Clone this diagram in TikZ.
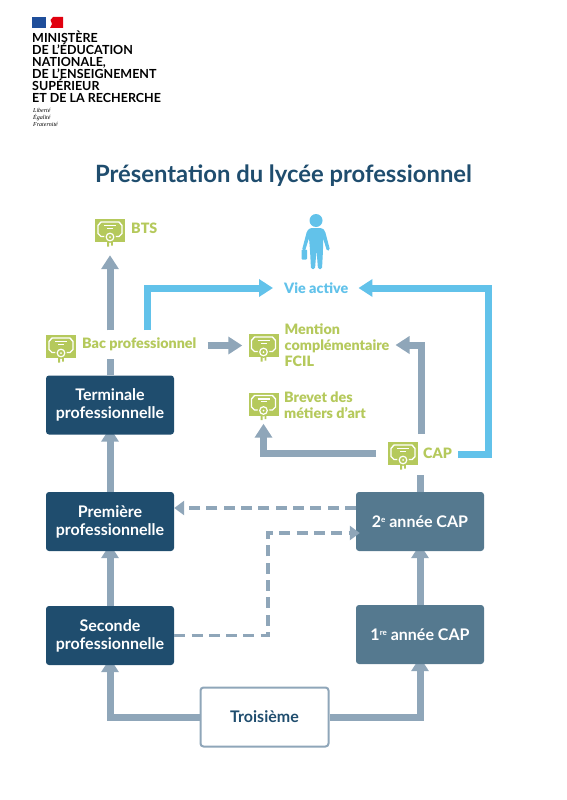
\documentclass[tikz,border=0pt]{standalone}
\usepackage{fontspec}
\setmainfont{Lato}
\newfontfamily\heavyfont{Lato Black}
\usepackage{xcolor}
\usetikzlibrary{arrows.meta, backgrounds}

\definecolor{navybox}{HTML}{1F4D6E}
\definecolor{slatebox}{HTML}{55798F}
\definecolor{linkgrey}{HTML}{8FA6B9}
\definecolor{skyblue}{HTML}{62C2EA}
\definecolor{certgreen}{HTML}{B5C95C}
\definecolor{flagblue}{HTML}{1F4E9A}
\definecolor{flagred}{HTML}{E1000F}

\newcommand{\rang}[1]{\raisebox{.6ex}{\fontsize{8}{8}\selectfont #1}}

\tikzset{
  classbox/.style={rectangle, rounded corners=3pt, minimum width=128pt, minimum height=59pt, inner sep=0pt,
    align=center, text=white, font=\fontsize{16}{18}\selectfont\bfseries},
  navy/.style={classbox, fill=navybox, execute at begin node={\rule{0pt}{15pt}}},
  slate/.style={classbox, fill=slatebox},
  certlabel/.style={anchor=west, inner sep=0pt, align=left, text=certgreen, font=\fontsize{14.3}{16}\heavyfont},
  certicon/.style={rectangle, fill=certgreen, minimum width=30pt, minimum height=23pt, inner sep=0pt},
  greyflow/.style={draw=linkgrey, line width=7pt, -{Triangle[length=14pt,width=17pt]}},
  blueflow/.style={draw=skyblue, line width=7pt, -{Triangle[length=14pt,width=17pt]}},
  plainflow/.style={draw=linkgrey, line width=7pt},
  dashflow/.style={draw=linkgrey, line width=3.5pt, dash pattern=on 11pt off 6.3pt, -{Triangle[length=10pt,width=14pt]}},
  seal/.pic={
    \draw[white, line width=1.4pt, line join=round] (-12,-5) -- (-9,-8.5) -- (9,-8.5) -- (12,-5) -- (12,3) -- (9,6) -- (-9,6) -- (-12,3) -- cycle;
    \draw[white, line width=1.2pt] (-6,-5) -- (6,-5);
    \draw[white, line width=.8pt] (-3,-2.2) -- (3,-2.2);
    \fill[certgreen] (0,6.5) circle (5.8pt);
    \draw[white, line width=1.2pt] (0,6.5) circle (3.8pt);
    \fill[white] (0,6.5) circle (1pt);
    \fill[certgreen] (-2.8,11) rectangle (-1,16) (1,11) rectangle (2.8,15);
  }
}

\begin{document}
\begin{tikzpicture}[x=1pt, y=-1pt]
  \useasboundingbox (0,0) rectangle (566,800);

  % logo
  \fill[flagblue] (32,17) rectangle (45.5,28);
  \fill[flagred] (50.5,20) -- (53,17) -- (63,17) -- (63,28) -- (50,28) -- (52,24) -- cycle;
  \node[anchor=north west, inner sep=0pt, align=left, font=\fontsize{12.5}{12}\selectfont\bfseries] (ministere) at (32,31)
    {MINISTÈRE\\DE L’ÉDUCATION\\NATIONALE,\\DE L’ENSEIGNEMENT\\SUPÉRIEUR\\ET DE LA RECHERCHE};
  \node[anchor=north west, inner sep=0pt, align=left, font=\fontsize{6}{7}\fontspec{Liberation Serif}\itshape] (devise) at (33,108)
    {Liberté\\Égalité\\Fraternité};

  % title
  \node[inner sep=0pt, text=navybox, font=\fontsize{23.8}{26}\selectfont\bfseries] (title) at (283.5,175.5) {Présentation du lycée professionnel};

  % classes
  \node[navy] (terminale) at (110,405) {Terminale\\professionnelle};
  \node[navy] (premiere) at (110,521.5) {Première\\professionnelle};
  \node[navy] (seconde) at (110,635.5) {Seconde\\professionnelle};
  \node[slate] (deuxieme) at (420,521.5) {2\rang{e} année CAP};
  \node[slate] (premannee) at (420,634.5) {1\rang{re} année CAP};
  \node[classbox, draw=linkgrey, line width=2pt, fill=white, text=navybox] (troisieme) at (264.5,717) {Troisième};

  % diplomas
  \node[certicon] (btsicon) at (110,230.5) {};
  \pic at (btsicon) {seal};
  \node[certlabel] (bts) at (131,228.5) {BTS};
  \node[certicon] (bacicon) at (61,346.5) {};
  \pic at (bacicon) {seal};
  \node[certlabel] (bac) at (82,344) {Bac professionnel};
  \node[certicon] (mentionicon) at (263.5,345.5) {};
  \pic at (mentionicon) {seal};
  \node[certlabel] (mention) at (284.5,345) {Mention\\complémentaire\\FCIL};
  \node[certicon] (brevericon) at (263.5,404) {};
  \pic at (brevericon) {seal};
  \node[certlabel] (brevet) at (284,405) {Brevet des\\métiers d’art};
  \node[certicon] (capicon) at (403,453.5) {};
  \pic at (capicon) {seal};
  \node[certlabel] (cap) at (423,453.5) {CAP};

  % working life
  \node[certlabel, text=skyblue] (vie) at (284,288) {Vie active};
  \fill[skyblue] (316,220.5) circle (6.5pt);
  \fill[skyblue, rounded corners=1.5pt] (310,228) -- (322,228) -- (325,231) -- (330,250) -- (327,251) -- (323,238) -- (323,250)
    -- (322,269) -- (318,269) -- (316.5,250) -- (315,269) -- (311,269) -- (310,250) -- (309,238) -- (305,251) -- (302,250) -- (307,231) -- cycle;
  \fill[skyblue, rounded corners=.8pt] (301.5,249.5) rectangle (307,259.5);

  \coordinate (bacblue) at (147,330);
  \coordinate (capblue) at (458,454);
  \coordinate (capgrey) at (421,434);
  \coordinate (capleft) at (376,453);

  % connectors
  \begin{scope}[on background layer]
    \draw[greyflow, shorten >=-7pt] (troisieme.west) -| (seconde.south);
    \draw[greyflow, shorten >=-7pt] (troisieme.east) -| (premannee.south);
    \draw[greyflow, shorten >=-7pt] (seconde.north) -- (premiere.south);
    \draw[greyflow, shorten >=-7pt] (premiere.north) -- (terminale.south);
    \draw[greyflow, shorten >=-7pt] (premannee.north) -- (deuxieme.south);
    \draw[plainflow] (terminale.north) -- ++(0,-16);
    \draw[plainflow] (deuxieme.north) -- ++(0,-17);
  \end{scope}
  \draw[greyflow, shorten <=7pt, shorten >=13pt] (btsicon.south |- bac.north) -- (btsicon.south);
  \draw[greyflow, shorten <=11pt, shorten >=6pt] (bac.east |- mentionicon.west) -- (mentionicon.west);
  \draw[greyflow, shorten >=8pt] (capleft) -| (brevericon.south);
  \draw[greyflow, shorten >=6pt] (capgrey) |- (mention.east);
  \draw[blueflow, shorten >=11pt] (bacblue) |- (vie.west);
  \draw[blueflow, shorten >=10pt] (capblue) -| (488,288) -- (vie.east);
  \draw[dashflow] (deuxieme.west |- 0,508) -- (premiere.east |- 0,508);
  \draw[dashflow, shorten >=-4pt] (seconde.east) -| (268,533) -- (deuxieme.west |- 0,533);
\end{tikzpicture}
\end{document}
